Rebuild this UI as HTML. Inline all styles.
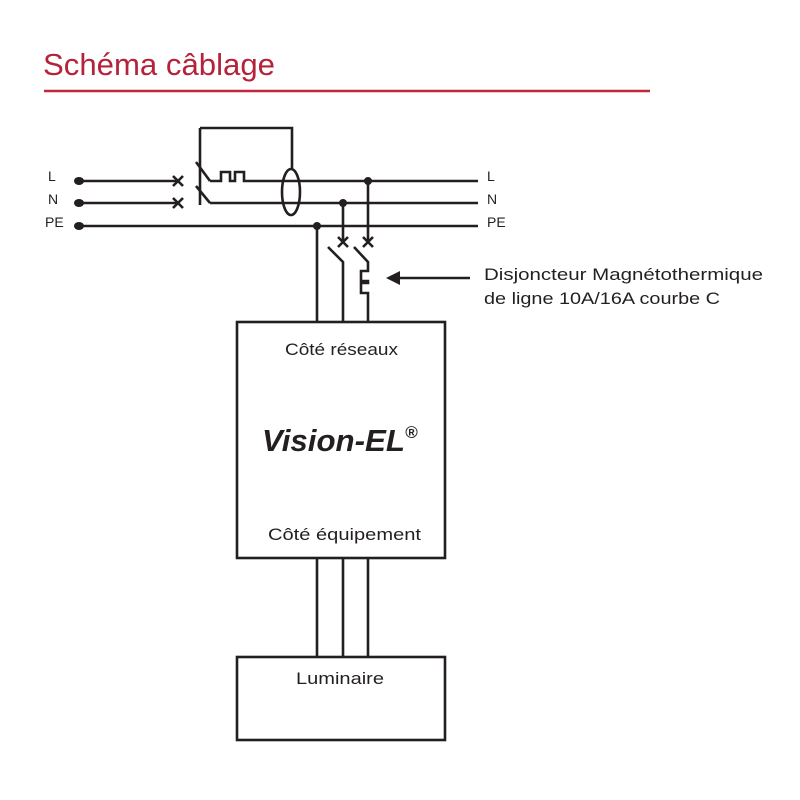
<!DOCTYPE html>
<html><head><style>
body{margin:0;background:#fff;}
svg{display:block;font-family:"Liberation Sans",sans-serif;}
</style></head><body>
<svg width="800" height="800" viewBox="0 0 800 800">
<text x="43" y="75" font-size="31" fill="#b5223b" textLength="232" lengthAdjust="spacingAndGlyphs">Schéma câblage</text>
<line x1="44" y1="91" x2="650" y2="91" stroke="#c0283e" stroke-width="2.5"/>
<g stroke="#231f20" stroke-width="2.6" fill="none">
<line x1="78" y1="181" x2="178" y2="181"/>
<line x1="78" y1="203" x2="178" y2="203"/>
<line x1="78" y1="226" x2="478" y2="226"/>
<path d="M173 176l10 10M183 176l-10 10M173 198l10 10M183 198l-10 10"/>
<line x1="200" y1="128" x2="200" y2="205"/>
<path d="M196 162l14 19M196 186l14 17"/>
<path d="M200 128H292V169"/>
<path d="M210 181H221V172H230V181H235V172H244V181H478"/>
<path d="M210 203H478"/>
<ellipse cx="291" cy="192" rx="9" ry="23"/>
<line x1="317" y1="226" x2="317" y2="322"/>
<line x1="343" y1="203" x2="343" y2="243"/>
<line x1="368" y1="181" x2="368" y2="243"/>
<path d="M338 237l10 10M348 237l-10 10M363 237l10 10M373 237l-10 10"/>
<path d="M328 247l15 15V322"/>
<path d="M354 247l14 15V271H361V281H368V283H361V293H368V322"/>
<rect x="237" y="322" width="208" height="236"/>
<rect x="237" y="657" width="208" height="83"/>
<path d="M317 558V657M343 558V657M368 558V657"/>
<line x1="395" y1="278" x2="470" y2="278"/>
</g>
<g fill="#231f20">
<ellipse cx="79" cy="181" rx="5" ry="4"/><ellipse cx="79" cy="203" rx="5" ry="4"/><ellipse cx="79" cy="226" rx="5" ry="4"/>
<circle cx="368" cy="181" r="4"/><circle cx="343" cy="203" r="4"/><circle cx="317" cy="226" r="4"/>
<path d="M386 278l14-7v14z"/>
</g>
<g font-size="14" fill="#231f20">
<text x="48" y="181">L</text><text x="48" y="204">N</text><text x="45" y="227">PE</text>
<text x="487" y="181">L</text><text x="487" y="204">N</text><text x="487" y="227">PE</text>
</g>
<g font-size="17" fill="#231f20" lengthAdjust="spacingAndGlyphs">
<text x="484" y="280" textLength="279" lengthAdjust="spacingAndGlyphs">Disjoncteur Magnétothermique</text>
<text x="484" y="304" textLength="236" lengthAdjust="spacingAndGlyphs">de ligne 10A/16A courbe C</text>
<text x="285" y="355" textLength="113" lengthAdjust="spacingAndGlyphs">Côté réseaux</text>
<text x="268" y="540" textLength="153" lengthAdjust="spacingAndGlyphs">Côté équipement</text>
<text x="296" y="684" textLength="88" lengthAdjust="spacingAndGlyphs">Luminaire</text>
</g>
<text x="262" y="451" font-size="31" font-weight="bold" font-style="italic" fill="#231f20"><tspan textLength="143" lengthAdjust="spacingAndGlyphs">Vision-EL</tspan><tspan font-size="17" dy="-13">®</tspan></text>
</svg>
</body></html>
